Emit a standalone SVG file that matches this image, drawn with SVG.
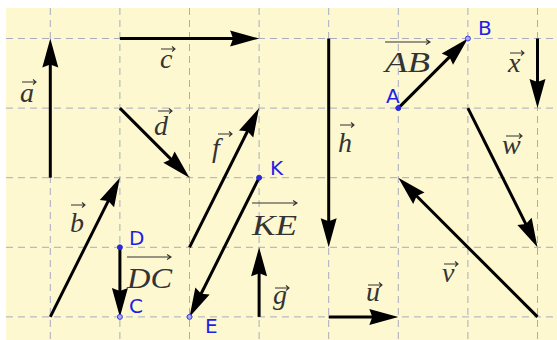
<svg xmlns="http://www.w3.org/2000/svg" width="557" height="340" viewBox="0 0 557 340">
<style>
.grid line{stroke:#a9abc0;stroke-width:1;stroke-dasharray:7 5}
.vec{stroke:#000;stroke-width:3;fill:none;marker-end:url(#head)}
.lbl{font-family:"Liberation Serif",serif;font-style:italic;font-size:28px;fill:#333}
.cap{font-family:"Liberation Serif",serif;font-style:italic;font-size:29px;fill:#333}
.va{stroke:#333;stroke-width:1.1;fill:none}
.pt{font-family:"DejaVu Sans",sans-serif;font-size:20px;fill:#1e1ee6}
.ps{fill:#2a2ad8;stroke:#2a2ad8;stroke-width:1}
.pe{fill:#a8aaf0;stroke:#3a3ae0;stroke-width:1}
</style>
<defs>
<marker id="head" markerUnits="userSpaceOnUse" markerWidth="40" markerHeight="40" refX="0" refY="0" orient="auto" overflow="visible">
<path d="M10,0 L-19,-8 L-16,0 L-19,8 Z" fill="#000"/>
</marker>
</defs>
<rect x="0" y="0" width="557" height="340" fill="#fff"/>
<rect x="6" y="8" width="551" height="332" fill="#fdf8d0"/>
<g class="grid">
<line x1="50.3" y1="8" x2="50.3" y2="340"/>
<line x1="119.9" y1="8" x2="119.9" y2="340"/>
<line x1="189.5" y1="8" x2="189.5" y2="340"/>
<line x1="259.1" y1="8" x2="259.1" y2="340"/>
<line x1="328.7" y1="8" x2="328.7" y2="340"/>
<line x1="398.3" y1="8" x2="398.3" y2="340"/>
<line x1="467.9" y1="8" x2="467.9" y2="340"/>
<line x1="537.5" y1="8" x2="537.5" y2="340"/>
<line x1="6" y1="38.5" x2="557" y2="38.5"/>
<line x1="6" y1="108.1" x2="557" y2="108.1"/>
<line x1="6" y1="177.7" x2="557" y2="177.7"/>
<line x1="6" y1="247.3" x2="557" y2="247.3"/>
<line x1="6" y1="316.9" x2="557" y2="316.9"/>
</g>
<g id="connectors">
<line class="vec" x1="50.3" y1="177.7" x2="50.3" y2="48.5"/>
<line class="vec" x1="119.9" y1="38.5" x2="249.1" y2="38.5"/>
<line class="vec" x1="119.9" y1="108.1" x2="182.4" y2="170.6"/>
<line class="vec" x1="50.3" y1="316.9" x2="115.4" y2="186.6"/>
<line class="vec" x1="119.9" y1="247.3" x2="119.9" y2="306.9"/>
<line class="vec" x1="189.5" y1="247.3" x2="254.6" y2="117.0"/>
<line class="vec" x1="259.1" y1="177.7" x2="194.0" y2="308.0"/>
<line class="vec" x1="259.1" y1="316.9" x2="259.1" y2="257.3"/>
<line class="vec" x1="328.7" y1="38.5" x2="328.7" y2="237.3"/>
<line class="vec" x1="328.7" y1="316.9" x2="388.3" y2="316.9"/>
<line class="vec" x1="398.3" y1="108.1" x2="460.8" y2="45.6"/>
<line class="vec" x1="537.5" y1="38.5" x2="537.5" y2="98.1"/>
<line class="vec" x1="467.9" y1="108.1" x2="533.0" y2="238.4"/>
<line class="vec" x1="537.5" y1="316.9" x2="405.4" y2="184.8"/>
</g>
<g id="vec-a"><text class="lbl" x="20" y="102">a</text><path class="va" d="M22,82 H36 M33,79.5 L36,82 L33,84.5"/></g>
<g id="vec-c"><text class="lbl" x="160" y="68">c</text><path class="va" d="M161,49 H175 M172,46.5 L175,49 L172,51.5"/></g>
<g id="vec-d"><text class="lbl" x="154" y="135">d</text><path class="va" d="M158,111 H172 M169,108.5 L172,111 L169,113.5"/></g>
<g id="vec-f"><text class="lbl" x="212" y="157">f</text><path class="va" d="M218,134 H232 M229,131.5 L232,134 L229,136.5"/></g>
<g id="vec-b"><text class="lbl" x="70" y="232">b</text><path class="va" d="M71,205 H85 M82,202.5 L85,205 L82,207.5"/></g>
<g id="vec-h"><text class="lbl" x="338" y="152">h</text><path class="va" d="M340,125 H354 M351,122.5 L354,125 L351,127.5"/></g>
<g id="vec-w"><text class="lbl" x="502" y="154">w</text><path class="va" d="M506,136 H522 M519,133.5 L522,136 L519,138.5"/></g>
<g id="vec-x"><text class="lbl" x="508" y="72">x</text><path class="va" d="M510,53 H524 M521,50.5 L524,53 L521,55.5"/></g>
<g id="vec-v"><text class="lbl" x="442" y="282">v</text><path class="va" d="M444,264 H458 M455,261.5 L458,264 L455,266.5"/></g>
<g id="vec-u"><text class="lbl" x="366" y="301">u</text><path class="va" d="M368,285 H382 M379,282.5 L382,285 L379,287.5"/></g>
<g id="vec-g"><text class="lbl" x="273" y="304">g</text><path class="va" d="M275,288 H289 M286,285.5 L289,288 L286,290.5"/></g>
<g id="vec-AB"><text class="cap" x="385" y="72" textLength="45" lengthAdjust="spacingAndGlyphs">AB</text><path class="va" d="M385,42 H430 M426,39.5 L430,42 L426,44.5"/></g>
<g id="vec-DC"><text class="cap" x="127" y="288" textLength="45" lengthAdjust="spacingAndGlyphs">DC</text><path class="va" d="M127,257 H171 M167,254.5 L171,257 L167,259.5"/></g>
<g id="vec-KE"><text class="cap" x="252" y="235" textLength="45" lengthAdjust="spacingAndGlyphs">KE</text><path class="va" d="M252,203 H297 M293,200.5 L297,203 L293,205.5"/></g>
<g id="point-A"><circle class="ps" cx="398.3" cy="108.1" r="2.5"/><text class="pt" x="386" y="103">A</text></g>
<g id="point-B"><circle class="pe" cx="467.9" cy="38.5" r="2.5"/><text class="pt" x="478" y="35">B</text></g>
<g id="point-D"><circle class="ps" cx="119.9" cy="247.3" r="2.5"/><text class="pt" x="129" y="245">D</text></g>
<g id="point-C"><circle class="pe" cx="119.9" cy="316.9" r="2.5"/><text class="pt" x="129" y="313">C</text></g>
<g id="point-K"><circle class="ps" cx="259.1" cy="177.7" r="2.5"/><text class="pt" x="270" y="175">K</text></g>
<g id="point-E"><circle class="pe" cx="189.5" cy="316.9" r="2.5"/><text class="pt" x="205" y="333">E</text></g>
</svg>
